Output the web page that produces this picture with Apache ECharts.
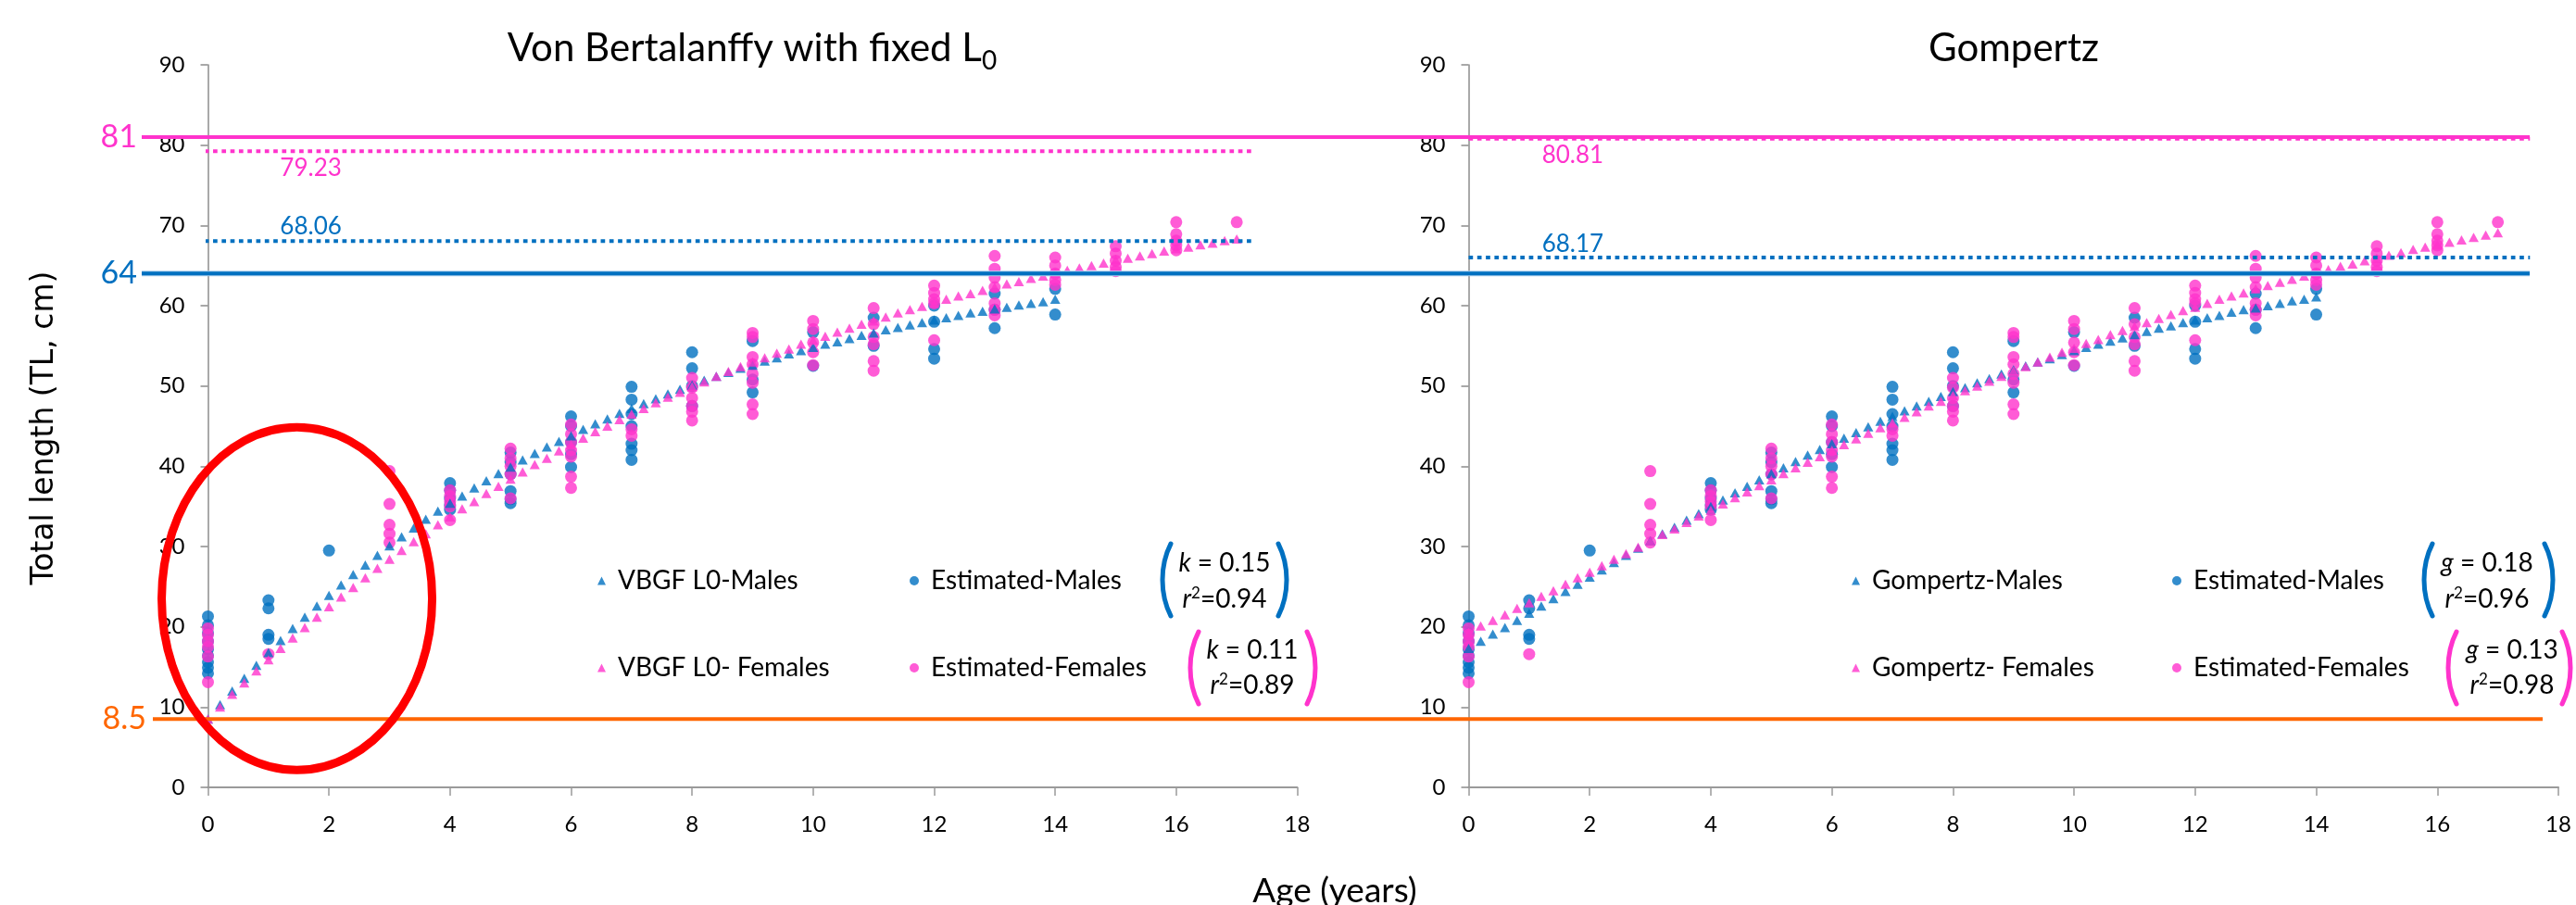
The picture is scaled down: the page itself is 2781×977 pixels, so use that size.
<!DOCTYPE html>
<html>
<head>
    <meta charset="utf-8">
    <title>Growth models</title>
    <script src="https://cdn.jsdelivr.net/npm/echarts@6.0.0/dist/echarts.min.js"></script>
    <style>
        html, body { margin: 0; padding: 0; background: #fff; }
        #main { width: 2781px; height: 977px; }
    </style>
</head>
<body>
<div id="main"></div>
<script type="text/javascript">
// ages of the fitted-curve points (0.2 y steps)
var fitAges = [0,0.2,0.4,0.6,0.8,1,1.2,1.4,1.6,1.8,2,2.2,2.4,2.6,2.8,3,3.2,3.4,3.6,3.8,
    4,4.2,4.4,4.6,4.8,5,5.2,5.4,5.6,5.8,6,6.2,6.4,6.6,6.8,7,7.2,7.4,7.6,7.8,
    8,8.2,8.4,8.6,8.8,9,9.2,9.4,9.6,9.8,10,10.2,10.4,10.6,10.8,11,11.2,11.4,11.6,11.8,
    12,12.2,12.4,12.6,12.8,13,13.2,13.4,13.6,13.8,14,14.2,14.4,14.6,14.8,15,15.2,15.4,15.6,15.8,
    16,16.2,16.4,16.6,16.8,17];

var vbgfMales = [8.5,10.3,12.0,13.6,15.2,16.8,18.3,19.8,21.2,22.6,
    23.9,25.2,26.5,27.7,28.9,30.1,31.2,32.3,33.4,34.4,
    35.4,36.3,37.3,38.2,39.1,39.9,40.8,41.6,42.4,43.1,
    43.8,44.6,45.3,45.9,46.6,47.2,47.8,48.4,49.0,49.6,
    50.1,50.7,51.2,51.7,52.2,52.6,53.1,53.5,54.0,54.4,
    54.8,55.2,55.5,55.9,56.3,56.6,57.0,57.3,57.6,57.9,
    58.2,58.5,58.8,59.1,59.3,59.6,59.8,60.1,60.3,60.5,60.8];

var vbgfFemales = [8.5,10.0,11.6,13.0,14.5,15.9,17.3,18.6,19.9,21.2,
    22.5,23.7,24.9,26.1,27.3,28.4,29.5,30.6,31.6,32.7,
    33.7,34.7,35.6,36.6,37.5,38.4,39.3,40.2,41.0,41.9,
    42.7,43.5,44.3,45.0,45.8,46.5,47.2,47.9,48.6,49.2,
    49.9,50.5,51.2,51.8,52.4,53.0,53.5,54.1,54.6,55.2,
    55.7,56.2,56.7,57.2,57.7,58.1,58.6,59.1,59.5,59.9,
    60.3,60.8,61.2,61.5,61.9,62.3,62.7,63.0,63.4,63.7,
    64.1,64.4,64.7,65.0,65.3,65.7,65.9,66.2,66.5,66.8,
    67.1,67.3,67.6,67.8,68.1,68.3];

var gompMales = [17.3,18.2,19.1,19.9,20.8,21.7,22.6,23.5,24.4,25.3,
    26.2,27.1,28.0,28.9,29.8,30.7,31.6,32.4,33.3,34.1,
    35.0,35.8,36.7,37.5,38.3,39.1,39.8,40.6,41.4,42.1,
    42.8,43.5,44.2,44.9,45.6,46.2,46.9,47.5,48.1,48.7,
    49.3,49.8,50.4,50.9,51.5,52.0,52.5,53.0,53.4,53.9,
    54.4,54.8,55.2,55.6,56.0,56.4,56.8,57.2,57.5,57.9,
    58.2,58.5,58.8,59.2,59.5,59.7,60.0,60.3,60.6,60.8,61.1];

var gompFemales = [19.3,20.1,20.8,21.5,22.3,23.0,23.8,24.5,25.3,26.1,
    26.8,27.6,28.4,29.1,29.9,30.7,31.5,32.2,33.0,33.8,
    34.5,35.3,36.1,36.8,37.6,38.3,39.1,39.8,40.5,41.2,
    42.0,42.7,43.4,44.1,44.8,45.4,46.1,46.8,47.5,48.1,
    48.8,49.4,50.0,50.6,51.2,51.9,52.4,53.0,53.6,54.2,
    54.7,55.3,55.8,56.4,56.9,57.4,57.9,58.4,58.9,59.4,
    59.8,60.3,60.8,61.2,61.6,62.1,62.5,62.9,63.3,63.7,
    64.1,64.5,64.9,65.2,65.6,65.9,66.3,66.6,67.0,67.3,
    67.6,67.9,68.2,68.5,68.8,69.1];

// estimated lengths [age, TL]
var estMales = [
    [0,21.3],[0,20.2],[0,19.2],[0,18.2],[0,17.2],[0,16.4],[0,15.6],[0,14.9],[0,14.2],
    [1,23.3],[1,22.3],[1,19.0],[1,18.5],
    [2,29.5],
    [4,37.9],[4,37.0],[4,36.0],[4,35.2],[4,34.6],
    [5,41.7],[5,40.5],[5,39.0],[5,36.9],[5,35.9],[5,35.4],
    [6,46.2],[6,45.0],[6,43.0],[6,41.5],[6,39.9],
    [7,49.9],[7,48.3],[7,46.5],[7,45.0],[7,42.8],[7,42.0],[7,40.8],
    [8,54.2],[8,52.2],[8,50.0],[8,47.5],
    [9,55.6],[9,50.8],[9,49.2],
    [10,56.7],[10,52.5],
    [11,58.5],[11,55.0],
    [12,60.0],[12,58.0],[12,54.6],[12,53.4],
    [13,61.5],[13,59.5],[13,57.2],
    [14,62.1],[14,58.9]
];
var estFemales = [
    [0,19.8],[0,19.0],[0,18.2],[0,17.5],[0,16.3],[0,13.1],
    [1,16.6],
    [3,39.4],[3,35.3],[3,32.7],[3,31.6],[3,30.5],
    [4,37.0],[4,36.3],[4,35.6],[4,35.0],[4,33.3],
    [5,42.2],[5,41.0],[5,40.0],[5,39.0],[5,36.0],
    [6,45.2],[6,44.0],[6,43.0],[6,42.0],[6,41.2],[6,38.7],[6,37.3],
    [7,44.6],[7,43.8],
    [8,51.0],[8,49.8],[8,48.5],[8,47.5],[8,46.8],[8,45.7],
    [9,56.6],[9,56.1],[9,53.6],[9,52.7],[9,51.5],[9,50.4],[9,47.7],[9,46.5],
    [10,58.1],[10,57.1],[10,55.4],[10,54.2],[10,52.6],
    [11,59.7],[11,57.7],[11,56.1],[11,55.2],[11,53.1],[11,51.9],
    [12,62.5],[12,61.6],[12,60.8],[12,60.3],[12,55.7],
    [13,66.2],[13,64.6],[13,63.5],[13,62.3],[13,60.3],[13,59.5],[13,58.8],
    [14,66.0],[14,65.0],[14,64.0],[14,63.2],[14,62.6],
    [15,67.4],[15,66.5],[15,65.6],[15,64.8],[15,64.3],
    [16,70.4],[16,68.9],[16,68.1],[16,67.5],[16,66.9],
    [17,70.4]
];

// reference levels
var maxObsFemale = 81, maxObsMale = 64, birthLength = 8.5;
var vbLinfFemale = 79.23, vbLinfMale = 68.06;
var gompLinfFemale = 80.81, gompLinfMale = 66.0;
var gompLinfMaleLabel = '68.17';

var BLUE = '#0070C0', PINK = '#FF33CC', ORANGE = '#FF6600', RED = '#FF0000';
var FONT = 'Lato, "Open Sans", sans-serif';

var chart = echarts.init(document.getElementById('main'));

function fitPairs(vals) {
    return vals.map(function (v, i) { return [fitAges[i], v]; });
}
function dots(name, data, color, g) {
    return { name: name, type: 'scatter', xAxisIndex: g, yAxisIndex: g, data: data,
        symbol: 'circle', symbolSize: 13, itemStyle: { color: color }, silent: true };
}
function tris(name, vals, color, g) {
    return { name: name, type: 'scatter', xAxisIndex: g, yAxisIndex: g, data: fitPairs(vals),
        symbol: 'triangle', symbolSize: [11, 10], itemStyle: { color: color }, silent: true };
}
function dotted(level, x0, x1, color, g) {
    return { type: 'line', xAxisIndex: g, yAxisIndex: g, data: [[x0, level], [x1, level]],
        symbol: 'none', clip: false, silent: true,
        lineStyle: { color: color, width: 4, type: [4.7, 4.6], cap: 'butt' } };
}
function xAx(g) {
    return { gridIndex: g, type: 'value', min: 0, max: 18, interval: 2,
        splitLine: { show: false },
        axisLine: { lineStyle: { color: '#9a9a9a', width: 2 } },
        axisTick: { length: 9, lineStyle: { color: '#9a9a9a', width: 1.5 } },
        axisLabel: { margin: 28, fontFamily: FONT, fontSize: 24, color: '#000' } };
}
function yAx(g) {
    return { gridIndex: g, type: 'value', min: 0, max: 90, interval: 10,
        splitLine: { show: false },
        axisLine: { show: true, lineStyle: { color: '#8c8c8c', width: 1.5 } },
        axisTick: { show: true, length: 8, lineStyle: { color: '#8c8c8c', width: 1.5 } },
        axisLabel: { margin: 25, fontFamily: FONT, fontSize: 24, color: '#000' } };
}
function legendItem(name, icon, iconX, rowY) {
    return { data: [{ name: name, icon: icon }], left: iconX - 5, top: rowY - 14, padding: 0,
        itemWidth: icon === 'triangle' ? 9 : 10, itemHeight: icon === 'triangle' ? 9 : 10,
        selectedMode: false,
        textStyle: { fontFamily: FONT, fontSize: 28, color: '#000', padding: [0, 0, 0, 8] } };
}

var titleStyle = { fontFamily: FONT, fontSize: 42, fontWeight: 'normal', color: '#000', lineHeight: 56,
    rich: { sub: { fontFamily: FONT, fontSize: 28, lineHeight: 24, verticalAlign: 'bottom', color: '#000' } } };

var option = {
    backgroundColor: '#fff',
    animation: false,
    title: [
        { text: 'Von Bertalanffy with fixed L{sub|0}', left: 812, top: 24, padding: 0, textAlign: 'center', textStyle: titleStyle },
        { text: 'Gompertz', left: 2174, top: 24, padding: 0, textAlign: 'center', textStyle: titleStyle }
    ],
    grid: [
        { left: 224.5, top: 70, width: 1176, height: 780 },
        { left: 1585.5, top: 70, width: 1176.5, height: 780 }
    ],
    xAxis: [xAx(0), xAx(1)],
    yAxis: [yAx(0), yAx(1)],
    legend: [
        legendItem('VBGF L0-Males', 'triangle', 650, 627),
        legendItem('VBGF L0- Females', 'triangle', 650, 721),
        legendItem('Estimated-Males', 'circle', 987, 627),
        legendItem('Estimated-Females', 'circle', 987, 721),
        legendItem('Gompertz-Males', 'triangle', 2004, 627),
        legendItem('Gompertz- Females', 'triangle', 2004, 721),
        legendItem('Estimated-Males', 'circle', 2350, 627),
        legendItem('Estimated-Females', 'circle', 2350, 721)
    ],
    series: [
        dotted(vbLinfFemale, -0.2, 17.3, PINK, 0),
        dotted(vbLinfMale, -0.2, 17.3, BLUE, 0),
        dots('Estimated-Males', estMales, BLUE, 0),
        dots('Estimated-Females', estFemales, PINK, 0),
        tris('VBGF L0-Males', vbgfMales, BLUE, 0),
        tris('VBGF L0- Females', vbgfFemales, PINK, 0),

        dotted(gompLinfFemale, 0, 17.53, PINK, 1),
        dotted(gompLinfMale, 0, 17.53, BLUE, 1),
        dots('Estimated-Males', estMales, BLUE, 1),
        dots('Estimated-Females', estFemales, PINK, 1),
        tris('Gompertz-Males', gompMales, BLUE, 1),
        tris('Gompertz- Females', gompFemales, PINK, 1)
    ]
};
chart.setOption(option);

// ---- annotations (lines across both panels, labels, brackets, ellipse)
function px(g, x, y) { return chart.convertToPixel({ gridIndex: g }, [x, y]); }

function hline(y, x0, x1, color, w) {
    return { type: 'line', silent: true, z: 50, shape: { x1: x0, y1: y, x2: x1, y2: y },
        style: { stroke: color, lineWidth: w } };
}
function label(txt, x, y, color, size, align) {
    return { type: 'text', silent: true, z: 60, x: x, y: y,
        style: { text: txt, fill: color, fontFamily: FONT, fontSize: size,
            align: align || 'center', verticalAlign: 'middle' } };
}
function paren(l, r, t, b, color) {
    var d = (b - t) * 0.3;
    return [
        { type: 'bezierCurve', silent: true, z: 60,
          shape: { x1: l + 10, y1: t, cpx1: l - 2, cpy1: t + d, cpx2: l - 2, cpy2: b - d, x2: l + 10, y2: b },
          style: { stroke: color, lineWidth: 5, fill: 'none', lineCap: 'round' } },
        { type: 'bezierCurve', silent: true, z: 60,
          shape: { x1: r - 10, y1: t, cpx1: r + 2, cpy1: t + d, cpx2: r + 2, cpy2: b - d, x2: r - 10, y2: b },
          style: { stroke: color, lineWidth: 5, fill: 'none', lineCap: 'round' } }
    ];
}
var richStat = {
    i: { fontFamily: FONT, fontSize: 28, fontStyle: 'italic', fill: '#000', lineHeight: 30 },
    n: { fontFamily: FONT, fontSize: 28, fill: '#000', lineHeight: 30 },
    sup: { fontFamily: FONT, fontSize: 17, fill: '#000', lineHeight: 16, verticalAlign: 'top' }
};
function stat(sym, val, x, y) {
    return { type: 'text', silent: true, z: 60, x: x, y: y,
        style: { text: '{i|' + sym + '}{n| = ' + val + '}', rich: richStat, align: 'center', verticalAlign: 'middle' } };
}
function rsq(val, x, y) {
    return { type: 'text', silent: true, z: 60, x: x, y: y,
        style: { text: '{i|r}{sup|2}{n|=' + val + '}', rich: richStat, align: 'center', verticalAlign: 'middle' } };
}

var y81 = px(0, 0, maxObsFemale)[1];
var y64 = px(0, 0, maxObsMale)[1];
var y85 = px(0, 0, birthLength)[1];
var ell = px(0, 1.47, 23.5);

var graphics = [
    hline(y81, 153, 2731, PINK, 4),
    hline(y64, 153, 2731, '#a9cceb', 6),
    hline(y64, 153, 2731, BLUE, 4),
    hline(y85, 165, 2745, ORANGE, 4),
    label(String(maxObsFemale), 148, y81, PINK, 34, 'right'),
    label(String(maxObsMale), 148, y64, BLUE, 34, 'right'),
    label(String(birthLength), 158, y85, ORANGE, 34, 'right'),
    label(String(vbLinfFemale), px(0, 1.7, 77.1)[0], px(0, 1.7, 77.1)[1], PINK, 26),
    label(String(vbLinfMale), px(0, 1.7, 69.8)[0], px(0, 1.7, 69.8)[1], BLUE, 26),
    label(String(gompLinfFemale), px(1, 1.72, 78.7)[0], px(1, 1.72, 78.7)[1], PINK, 26),
    label(gompLinfMaleLabel, px(1, 1.72, 67.7)[0], px(1, 1.72, 67.7)[1], BLUE, 26),
    { type: 'ellipse', silent: true, z: 70, shape: { cx: ell[0], cy: ell[1], rx: 146, ry: 185 },
      style: { fill: 'none', stroke: RED, lineWidth: 9 } },
    { type: 'text', silent: true, x: 48, y: 462, rotation: Math.PI / 2,
      style: { text: 'Total length (TL, cm)', fill: '#000', fontFamily: '"DejaVu Sans", Verdana, sans-serif',
               fontSize: 33, align: 'center', verticalAlign: 'middle' } },
    { type: 'text', silent: true, x: 1441, y: 962,
      style: { text: 'Age (years)', fill: '#000', fontFamily: FONT, fontSize: 37, align: 'center', verticalAlign: 'middle' } },
    stat('k', '0.15', 1322, 608), rsq('0.94', 1322, 647),
    stat('k', '0.11', 1352, 702), rsq('0.89', 1352, 740),
    stat('g', '0.18', 2685, 608), rsq('0.96', 2685, 647),
    stat('g', '0.13', 2712, 702), rsq('0.98', 2712, 740)
];
graphics = graphics
    .concat(paren(1254, 1390, 587, 665, BLUE))
    .concat(paren(1284, 1421, 682, 760, PINK))
    .concat(paren(2616, 2757, 587, 665, BLUE))
    .concat(paren(2642, 2776, 682, 760, PINK));

chart.setOption({ graphic: graphics });
</script>
</body>
</html>
